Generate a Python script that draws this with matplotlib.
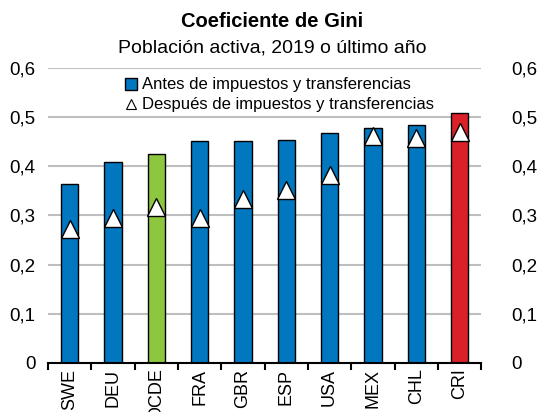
import numpy as np
import matplotlib
matplotlib.use("Agg")
import matplotlib.pyplot as plt
from matplotlib.ticker import FuncFormatter, FixedLocator
from matplotlib.lines import Line2D

plt.rcParams['font.family'] = ['Liberation Sans', 'DejaVu Sans']

countries = ["SWE", "DEU", "OCDE", "FRA", "GBR", "ESP", "USA", "MEX", "CHL", "CRI"]
before = [0.364, 0.409, 0.425, 0.451, 0.451, 0.453, 0.467, 0.478, 0.483, 0.508]
after = [0.272, 0.295, 0.317, 0.295, 0.334, 0.352, 0.382, 0.462, 0.457, 0.469]

blue = "#0077BF"
green = "#8DC63F"
red = "#DA2128"
colors = [green if c == "OCDE" else red if c == "CRI" else blue for c in countries]

fig = plt.figure(figsize=(5.55, 4.12), dpi=100)
ax = fig.add_axes([0.0865, 0.119, 0.7805, 0.717])

x = np.arange(len(countries))
ax.bar(x, before, width=0.4, color=colors, edgecolor="black", linewidth=1, zorder=2)
ax.plot(x, after, linestyle="none", marker="^", markersize=13.5, markerfacecolor="white",
        markeredgecolor="black", markeredgewidth=1, zorder=3)

ax.set_xlim(-0.5, len(countries) - 0.5)
ax.set_ylim(0, 0.6)
ax.set_yticks(np.arange(0, 0.61, 0.1))
fmt = FuncFormatter(lambda v, p: "0" if abs(v) < 1e-9 else f"{v:.1f}".replace(".", ","))
ax.yaxis.set_major_formatter(fmt)
ax.yaxis.grid(True, color="#BFBFBF", linewidth=1.5, zorder=0)
ax.tick_params(axis="y", length=0, labelsize=13.5, pad=9)

ax.set_xticks(x)
ax.set_xticklabels(countries, rotation=90, fontsize=13)
ax.xaxis.set_minor_locator(FixedLocator(np.arange(-0.5, len(countries), 1.0)))
ax.tick_params(axis="x", which="major", length=0, pad=4)
ax.tick_params(axis="x", which="minor", length=5, width=1.5, direction="out")

for s in ["top", "left", "right"]:
    ax.spines[s].set_visible(False)
ax.spines["bottom"].set_linewidth(1.5)

ax2 = ax.twinx()
ax2.set_ylim(ax.get_ylim())
ax2.set_yticks(np.arange(0, 0.61, 0.1))
ax2.yaxis.set_major_formatter(fmt)
ax2.tick_params(axis="y", length=0, labelsize=13.5, pad=22)
for s in ax2.spines.values():
    s.set_visible(False)

handles = [
    Line2D([], [], linestyle="none", marker="s", markersize=8, markerfacecolor=blue,
           markeredgecolor="black", markeredgewidth=1),
    Line2D([], [], linestyle="none", marker="^", markersize=7.5, markerfacecolor="white",
           markeredgecolor="black", markeredgewidth=0.8),
]
labels = ["Antes de impuestos y transferencias", "Después de impuestos y transferencias"]
ax.legend(handles, labels, loc="upper left", bbox_to_anchor=(0.16, 0.995), frameon=False,
          fontsize=12, handlelength=0.7, handletextpad=0.3, borderaxespad=0.1,
          labelspacing=0.3)

fig.text(0.49, 0.972, "Coeficiente de Gini", ha="center", va="top", fontsize=14.5, fontweight="bold")
fig.text(0.49, 0.905, "Población activa, 2019 o último año", ha="center", va="top", fontsize=14)

fig.savefig("out.png", dpi=100)
